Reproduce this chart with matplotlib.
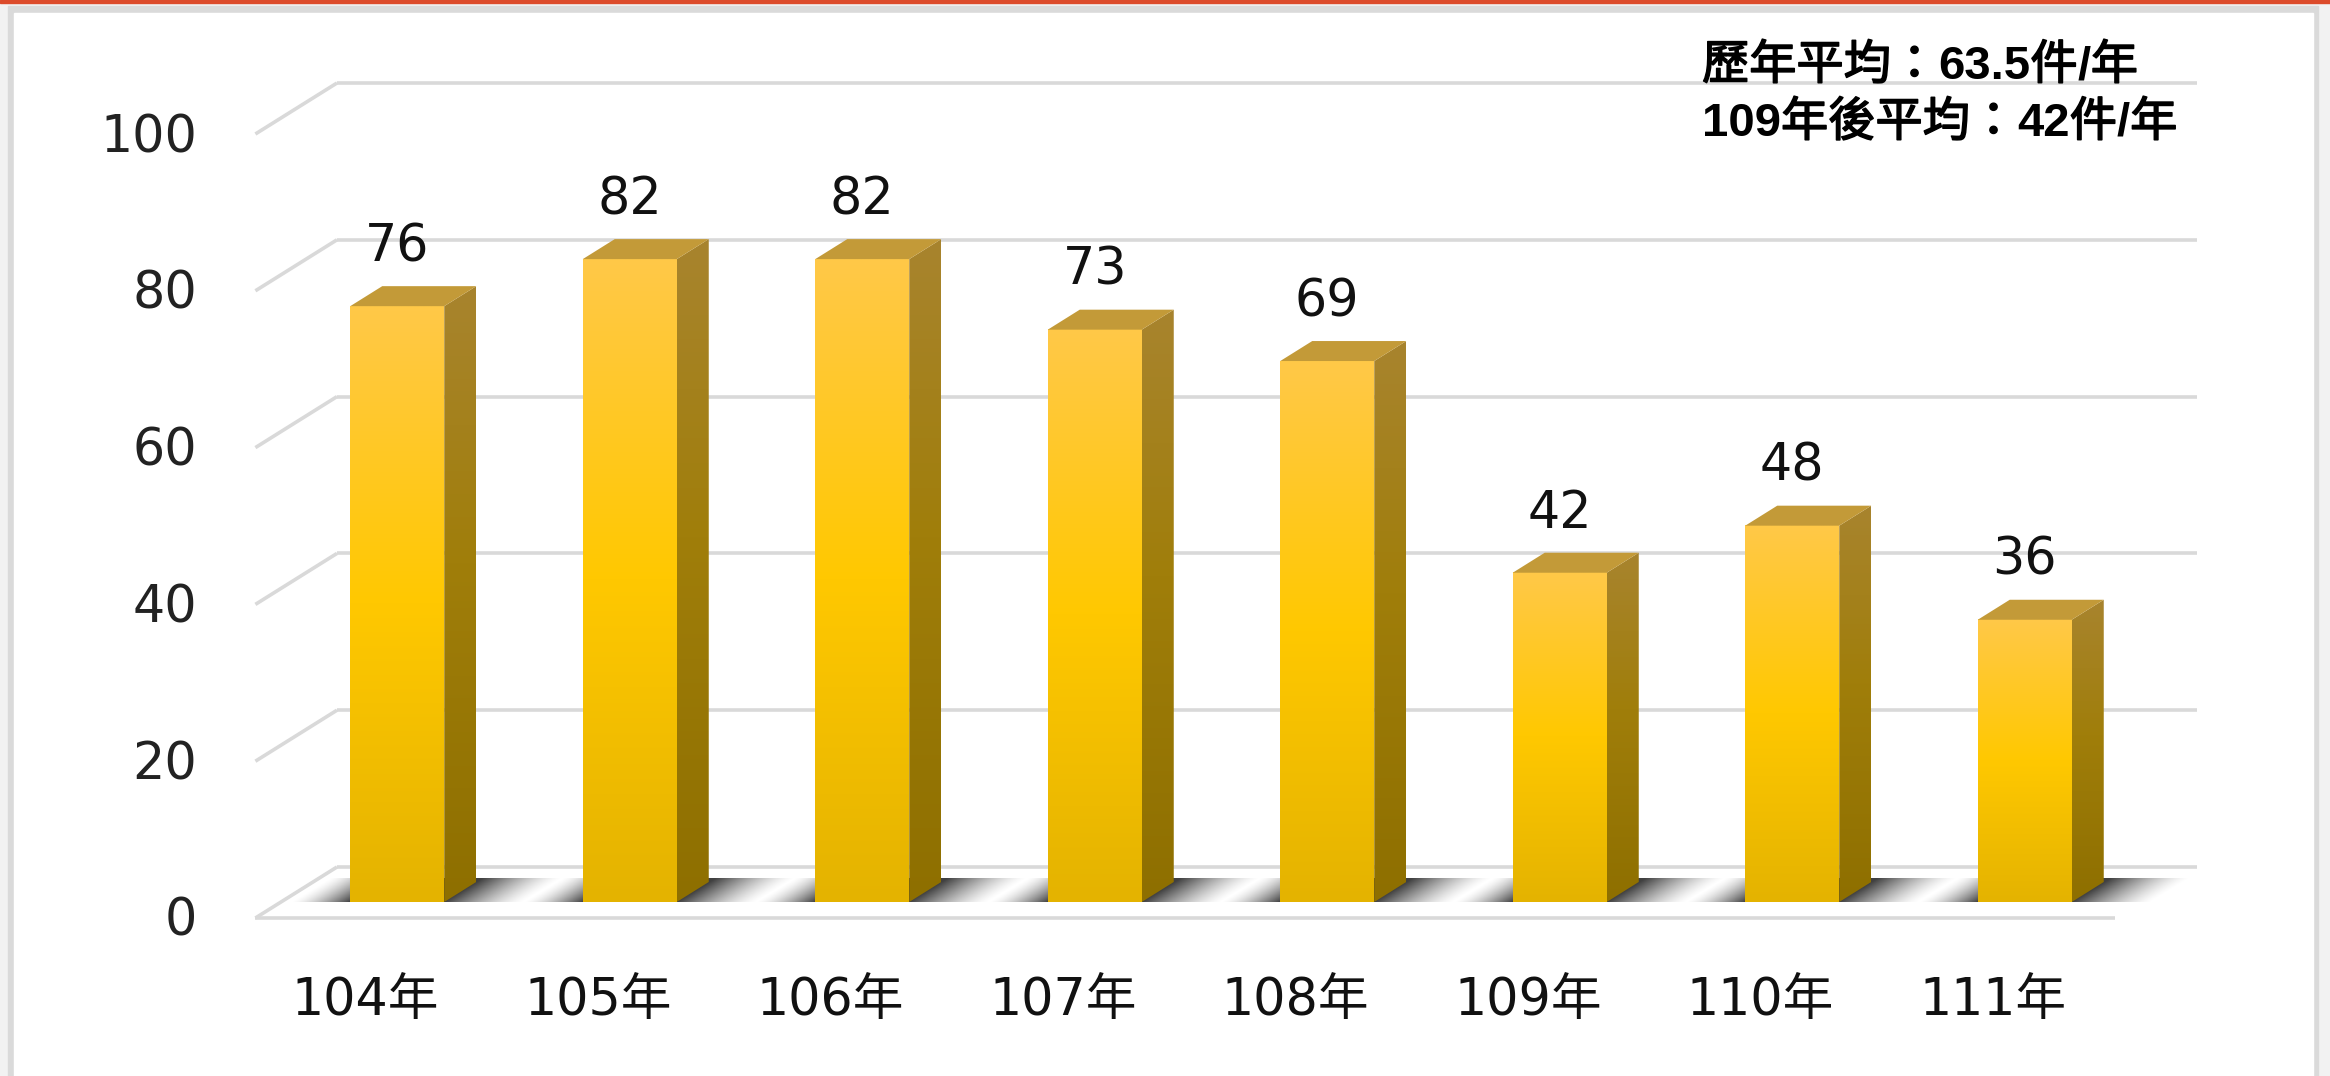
import numpy as np
import matplotlib
matplotlib.use('Agg')
import matplotlib.pyplot as plt
import matplotlib.patheffects as pe
from matplotlib.patches import Polygon, Rectangle
from matplotlib.colors import LinearSegmentedColormap

# ---------------- data ----------------
categories = ['104年', '105年', '106年', '107年', '108年', '109年', '110年', '111年']
values = [76, 82, 82, 73, 69, 42, 48, 36]
y_ticks = [0, 20, 40, 60, 80, 100]
# note text, split in runs: (text, is_latin_bold)
note_line1 = [('歷年平均：', False), ('63.5', True), ('件', False), ('/', True), ('年', False)]
note_line2 = [('109', True), ('年後平均：', False), ('42', True), ('件', False),
              ('/', True), ('年', False)]

# ---------------- layout (pixels) ----------------
W, H, DPI = 2330, 1076, 100
PLOT_L, PLOT_R = 281, 2141      # bar plane horizontal extent
BASE = 902                      # bar base row (from top)
UNIT = 7.84                     # px per value unit
CAT = (PLOT_R - PLOT_L) / len(categories)
SLANT = 1.6                     # oblique projection ratio dx/dy

FONT = ['DejaVu Sans', 'Noto Sans CJK TC']
NOTE_LATIN = ['Liberation Sans', 'Noto Sans CJK TC', 'DejaVu Sans']
NOTE_CJK = ['Noto Sans CJK TC', 'DejaVu Sans']

fig = plt.figure(figsize=(W / DPI, H / DPI), dpi=DPI)
fig.patch.set_facecolor('#F2F2F2')
fig.add_artist(Rectangle((0, 1 - 3 / H), 1, 3 / H, transform=fig.transFigure,
                         color='#DC4B2B', zorder=0))
fig.add_artist(Rectangle((8 / W, 0), (2318 - 8) / W, (H - 6) / H,
                         transform=fig.transFigure, color='#DADADA', zorder=0))
fig.add_artist(Rectangle((14 / W, 0), (2313 - 14) / W, (H - 13) / H,
                         transform=fig.transFigure, color='white', zorder=0))

ax = fig.add_axes([0, 0, 1, 1])
ax.axis('off')
ax.patch.set_alpha(0)
n = len(categories)
xlim = (-0.5 - PLOT_L / CAT, -0.5 + (W - PLOT_L) / CAT)
ylim = (-(H - BASE) / UNIT, BASE / UNIT)


def depth(t):
    """offset (data units) for a point t pixels deeper than bar front plane"""
    return SLANT * t / CAT, t / UNIT


GRID = '#D9D9D9'
bx, by = depth(35)
fx, fy = depth(-16)
for v in y_ticks:
    ax.plot([-0.5 + bx, n - 0.5 + bx], [v + by, v + by], color=GRID, lw=2.6,
            solid_capstyle='butt', zorder=1)
    ax.plot([-0.5 + fx, -0.5 + bx], [v + fy, v + by], color=GRID, lw=2.6,
            solid_capstyle='butt', zorder=1)
    ax.text(-0.5 + fx - 58 / CAT, v + fy - 18 / UNIT, str(v), ha='right',
            va='baseline', fontsize=36.5, family=FONT, color='#222222', zorder=5)
ax.plot([-0.5 + fx, n - 0.5 + fx], [fy, fy], color=GRID, lw=2.6,
        solid_capstyle='butt', zorder=1)

front_cmap = LinearSegmentedColormap.from_list(
    'front', [(0, '#E4B300'), (0.5, '#FFC800'), (1, '#FFC948')])
side_cmap = LinearSegmentedColormap.from_list(
    'side', [(0, '#8E6F00'), (0.55, '#A07E0A'), (1, '#A8842E')])
TOP_COLOR = '#C39A38'

bar_w = 94 / CAT
dx, dy = depth(20)
sx, sy = depth(24)
grad = np.linspace(0, 1, 256).reshape(-1, 1)

for i, v in enumerate(values):
    xc = i
    xl, xr = xc - bar_w / 2, xc + bar_w / 2

    # floor shadow (skewed soft strip)
    Lw, Rw = 60 / CAT, 80 / CAT
    ex0, ex1 = xl - Lw, xr + Rw + sx
    gx = np.linspace(ex0, ex1, 300)
    gy = np.linspace(0, sy, 40)
    X, Y = np.meshgrid(gx, gy)
    U = X - Y / sy * sx
    a = np.zeros_like(U)
    amax = 0.75
    m = (U >= xl - Lw) & (U < xl)
    a[m] = amax * ((U[m] - (xl - Lw)) / Lw) ** 1.5
    m = (U >= xl) & (U <= xr)
    a[m] = amax
    m = (U > xr) & (U <= xr + Rw)
    a[m] = amax * (1 - (U[m] - xr) / Rw) ** 1.4
    rgba = np.zeros(U.shape + (4,))
    rgba[..., 3] = a
    ax.imshow(rgba, extent=(ex0, ex1, 0, sy), origin='lower', aspect='auto',
              interpolation='bilinear', zorder=2)

    # front face
    ax.imshow(grad, extent=(xl, xr, 0, v), origin='lower', aspect='auto',
              cmap=front_cmap, interpolation='bilinear', zorder=3)
    # side face
    side = Polygon([(xr, 0), (xr + dx, dy), (xr + dx, v + dy), (xr, v)],
                   closed=True, facecolor='none', edgecolor='none',
                   transform=ax.transData)
    ax.add_patch(side)
    im = ax.imshow(grad, extent=(xr, xr + dx, 0, v + dy), origin='lower',
                   aspect='auto', cmap=side_cmap, interpolation='bilinear',
                   zorder=3)
    im.set_clip_path(side)
    # top face
    ax.add_patch(Polygon([(xl, v), (xr, v), (xr + dx, v + dy), (xl + dx, v + dy)],
                         closed=True, facecolor=TOP_COLOR, edgecolor='none',
                         zorder=4))
    # value label
    ax.text(xc, v + 45 / UNIT, str(v), ha='center', va='baseline', fontsize=36.5,
            family=FONT, color='#111111', zorder=5)
    # category label
    ax.text(xc - 32 / CAT, -113 / UNIT, categories[i], ha='center',
            va='baseline', fontsize=36.5, family=FONT, color='#111111', zorder=5)

ax.set_xlim(*xlim)
ax.set_ylim(*ylim)

# note text top-right, mixed runs (bold latin, medium-weight CJK)
renderer = fig.canvas.get_renderer()
cjk_fx = [pe.withStroke(linewidth=1.1, foreground='black')]


def rich_line(x_px, base_px, runs):
    x = x_px
    for s, latin in runs:
        t = fig.text(x / W, 1 - base_px / H, s, ha='left', va='baseline',
                     fontsize=34, fontweight='bold' if latin else 'normal',
                     family=NOTE_LATIN if latin else NOTE_CJK, color='black',
                     zorder=6)
        if not latin:
            t.set_path_effects(cjk_fx)
        x = t.get_window_extent(renderer).x1


rich_line(1702, 79, note_line1)
rich_line(1702, 136, note_line2)

fig.savefig('out.png', dpi=DPI, facecolor=fig.get_facecolor())
